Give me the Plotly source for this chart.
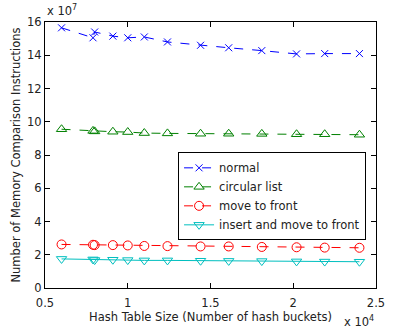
import plotly.graph_objects as go

# Hash table sizes (number of buckets)
buckets = [6000, 7900, 8000, 9100, 10000, 11000, 12400, 14400, 16100, 18100, 20200, 21900, 24000]
# Memory comparison instructions, in units of 1e7
normal = [15.65, 15.05, 15.4, 15.15, 15.05, 15.1, 14.8, 14.6, 14.45, 14.28, 14.08, 14.1, 14.1]
circular = [9.55, 9.45, 9.42, 9.4, 9.38, 9.32, 9.3, 9.28, 9.28, 9.27, 9.25, 9.25, 9.22]
move_front = [2.62, 2.6, 2.58, 2.58, 2.56, 2.53, 2.52, 2.5, 2.5, 2.47, 2.45, 2.43, 2.42]
insert_move = [1.75, 1.72, 1.68, 1.7, 1.68, 1.66, 1.66, 1.64, 1.63, 1.62, 1.6, 1.59, 1.58]

names = ["normal", "circular list", "move to front", "insert and move to front"]
colors = ["#0000ff", "#008000", "#ff0000", "#00bfbf"]
symbols = ["x-thin-open", "triangle-up-open", "circle-open", "triangle-down-open"]
sizes = [7, 9, 9, 9]
dashes = ["dash", "dash", "dash", "solid"]
series = [normal, circular, move_front, insert_move]

xs = [b / 1e4 for b in buckets]

fig = go.Figure()
for name, ys, c, s, sz, d in zip(names, series, colors, symbols, sizes, dashes):
    fig.add_trace(go.Scatter(
        x=xs, y=ys, name=name, mode="lines+markers",
        line=dict(color=c, width=1, dash=d),
        marker=dict(symbol=s, size=sz, color=c, line=dict(color=c, width=1)),
    ))

font = "DejaVu Sans, Verdana, sans-serif"
fs = 11.5
axis_common = dict(
    showline=True, linecolor="black", linewidth=1, mirror="ticks",
    ticks="inside", ticklen=5, tickcolor="black", showgrid=False, zeroline=False,
    tickfont=dict(family=font, size=fs, color="#222"), ticklabeloverflow="allow",
)
fig.update_layout(
    width=393, height=328,
    margin=dict(l=45, r=8, t=22, b=40),
    paper_bgcolor="white", plot_bgcolor="white",
    font=dict(family=font, size=fs, color="#222"),
    xaxis=dict(range=[0.5, 2.5], dtick=0.5, tick0=0.5, ticklabelstandoff=4,
               title=dict(text="Hash Table Size (Number of hash buckets)", standoff=0,
                          font=dict(size=fs)), **axis_common),
    yaxis=dict(range=[0, 16], dtick=2, tick0=0,
               title=dict(text="Number of Memory Comparison Instructions", standoff=4,
                          font=dict(size=fs)), **axis_common),
    legend=dict(x=0.402, y=0.51, xanchor="left", yanchor="top",
                bordercolor="black", borderwidth=1, bgcolor="white",
                font=dict(size=fs), itemwidth=30, tracegroupgap=0),
    annotations=[
        dict(text="x 10<sup>7</sup>", xref="paper", yref="paper", x=0, y=1,
             xanchor="left", yanchor="bottom", showarrow=False, yshift=2,
             font=dict(size=fs)),
        dict(text="x 10<sup>4</sup>", xref="paper", yref="paper", x=1.0, y=-0.09,
             xanchor="right", yanchor="top", showarrow=False,
             font=dict(size=fs)),
    ],
)
fig.write_html("out.html")
